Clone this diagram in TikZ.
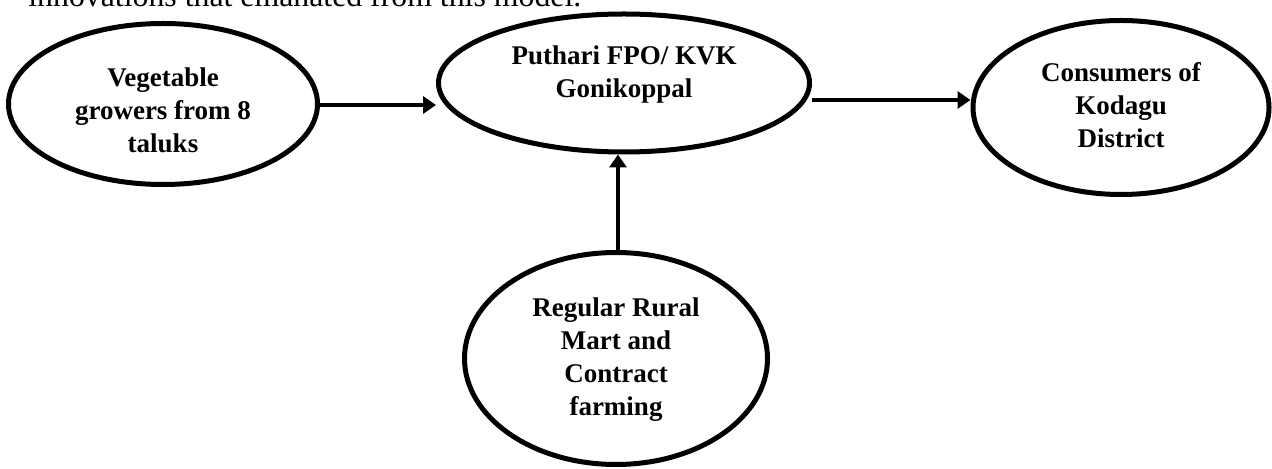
\documentclass[tikz,border=0pt]{standalone}
\usepackage{fontspec}
\setmainfont{Liberation Serif}
\usetikzlibrary{shapes.geometric,arrows.meta}
\tikzset{
  oval/.style={draw=black, line width=2.5pt, ellipse, inner sep=0pt},
  lbl/.style={font=\fontsize{13.5}{16.5}\selectfont\bfseries, align=center, inner sep=0pt},
  conn/.style={line width=2pt, -{Triangle[length=6.5pt,width=8.5pt]}}
}
\begin{document}
\begin{tikzpicture}[x=0.5pt,y=-0.5pt]
\useasboundingbox (0,0) rectangle (1272,469);
\clip (0,0) rectangle (1272,469);
\node[anchor=base west, inner sep=0pt, font=\fontsize{15.9}{19}\selectfont] (top) at (28,7) {innovations that emanated from this model.};
\node[oval, minimum width=154.5pt, minimum height=80.5pt] (e1) at (163,104) {};
\node[oval, minimum width=185.5pt, minimum height=69pt] (e2) at (624,83) {};
\node[oval, minimum width=148pt, minimum height=87pt] (e3) at (1121,107.5) {};
\node[oval, minimum width=151.5pt, minimum height=106pt] (e4) at (616,358.5) {};
\node[lbl] (t1) at (163,110) {Vegetable\\growers from 8\\taluks};
\node[lbl] (t2) at (624,75) {Puthari FPO/ KVK\\Gonikoppal};
\node[lbl] (t3) at (1121,105) {Consumers of\\Kodagu\\District};
\node[lbl] (t4) at (616,360) {Regular Rural\\Mart and\\Contract\\farming};
\draw[conn] (e1.east |- 0,105) -- (e2.west |- 0,105);
\draw[conn] (e2.east |- 0,100) -- (e3.west |- 0,100);
\draw[conn] (e4.north -| 618,0) -- (e2.south -| 618,0);
\end{tikzpicture}
\end{document}
